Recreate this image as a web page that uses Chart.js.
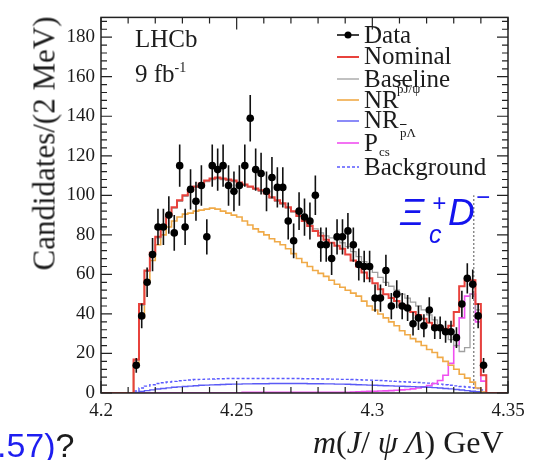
<!DOCTYPE html>
<html>
<head>
<meta charset="utf-8">
<script src="https://cdn.jsdelivr.net/npm/chart.js@4.4.1/dist/chart.umd.min.js"></script>
<style>
  html, body { margin: 0; padding: 0; background: #fff; }
  #wrap { position: relative; width: 544px; height: 460px; overflow: hidden; }
  #wrap canvas { position: absolute; left: 0; top: 0; }
  .t { position: absolute; white-space: nowrap; line-height: 1; color: #1c1c1c;
       font-family: "Liberation Serif", "Times New Roman", serif; }
  .leg { font-size: 25px; left: 364px; }
  .small { font-size: 13px; }
  .ov { text-decoration: overline; }
  .xi { font-family: "Liberation Sans", Arial, sans-serif; font-style: italic; color: #1414ee; }
</style>
</head>
<body>
<div id="wrap">
  <canvas id="c" width="544" height="460"></canvas>

  <div class="t" style="font-size:31px; width:300px; text-align:center; left:-106.5px; top:127.5px; transform:rotate(-90deg);">Candidates/(2 MeV)</div>
  <div class="t" style="font-size:32px; left:313px; top:426px;"><i>m</i>(<i>J</i>/ <i>ψ Λ</i>) GeV</div>

  <div class="t" style="font-size:25px; left:135px; top:26px;">LHCb</div>
  <div class="t" style="font-size:25px; left:135px; top:61px;">9 fb<sup style="font-size:14px; vertical-align:10px;">-1</sup></div>

  <div class="t leg" style="top:22px;">Data</div>
  <div class="t leg" style="top:43px;">Nominal</div>
  <div class="t leg" style="top:66px;">Baseline</div>
  <div class="t leg" style="top:87px;">NR</div>
  <div class="t small" style="left:397px; top:82px;"><span class="ov">p</span>J/ψ</div>
  <div class="t leg" style="top:107px;">NR</div>
  <div class="t small" style="left:400px; top:126px;"><span class="ov">p</span>Λ</div>
  <div class="t leg" style="top:130px;">P</div>
  <div class="t small" style="left:379px; top:145px;">cs</div>
  <div class="t leg" style="top:154px;">Background</div>

  <div class="t xi" style="font-size:37px; left:400px; top:194px;">Ξ</div>
  <div class="t xi" style="font-size:25px; left:429px; top:222px;">c</div>
  <div class="t xi" style="font-size:24px; left:432px; top:191px;">+</div>
  <div class="t xi" style="font-size:37px; left:448px; top:194px;">D</div>
  <div class="t xi" style="font-size:24px; left:476px; top:185px;">−</div>

  <div class="t" style="font-family:'Liberation Sans', Arial, sans-serif; font-size:34px; left:-3px; top:428px;"><span style="color:#1e1ef0;">.57)</span>?</div>
</div>

<script>
// m(J/psi Lambda) bin centres, 2 MeV bins
const binCenters = [
  4.213, 4.215, 4.217, 4.219, 4.221, 4.223, 4.225, 4.227, 4.229, 4.231,
  4.233, 4.235, 4.237, 4.239, 4.241, 4.243, 4.245, 4.247, 4.249, 4.251,
  4.253, 4.255, 4.257, 4.259, 4.261, 4.263, 4.265, 4.267, 4.269, 4.271,
  4.273, 4.275, 4.277, 4.279, 4.281, 4.283, 4.285, 4.287, 4.289, 4.291,
  4.293, 4.295, 4.297, 4.299, 4.301, 4.303, 4.305, 4.307, 4.309, 4.311,
  4.313, 4.315, 4.317, 4.319, 4.321, 4.323, 4.325, 4.327, 4.329, 4.331,
  4.333, 4.335, 4.337, 4.339, 4.341
];

const dataCounts = [
  14, 39, 56, 70, 84, 84, 90, 81, 115, 84,
  103, 97, 105, 79, 115, 113, 115, 105, 102, 105,
  115, 139, 113, 111, 102, 109, 104, 104, 87, 77,
  92, 89, 87, 100, 75, 75, 68, 79, 79, 82,
  75, 65, 64, 64, 48, 48, 62, 44, 50, 44,
  43, 35, 38, 34, 42, 33, 33, 31, 31, 28,
  45, 58, 55, 39, 14
];

const nominalFit = [
  17, 45, 62, 71, 79, 85, 90, 94, 97.5, 100,
  102.5, 104.5, 106, 107.5, 108.5, 109, 108.5, 108, 107.5, 106.5,
  105.5, 104.5, 103.5, 102.5, 101, 99, 97.5, 96, 94, 92,
  89.5, 87, 84.5, 82, 79.5, 77.5, 76, 74.5, 73, 70,
  67, 64, 61, 58, 55.5, 52.5, 50, 48, 46.5, 44.5,
  43, 41, 39.5, 37.5, 35.5, 34, 33, 32.5, 34, 41,
  54, 57, 57, 45, 9
];

const baselineFit = [
  16.5, 44.5, 61.5, 70.5, 78.5, 84.5, 89.5, 93.5, 97, 99.5,
  102, 104, 105.5, 107, 108, 108.5, 108, 107.5, 107, 106,
  105, 104, 103, 102, 100.5, 98.5, 97, 95.5, 93.5, 91.5,
  89.5, 87.5, 85.5, 83, 81, 79.5, 78.5, 77.5, 76, 74,
  71.5, 69, 66.5, 63.5, 61, 58.5, 56, 54, 52, 50,
  48, 46, 44, 42, 39.5, 37, 34, 31, 27, 24,
  21, 23, 50, 42, 9
];

const nrPJpsi = [
  14, 38, 56, 67, 75, 80, 84, 87, 89, 90.5,
  91, 92, 92.5, 93, 93.5, 93, 92, 91, 90, 89,
  87, 85, 83, 81.5, 80, 78, 76.5, 75, 73, 70.5,
  68, 66, 64, 62, 60.5, 59, 57, 55, 53.5, 52,
  50.5, 49, 46.5, 44, 42, 40, 38, 36, 34, 31.5,
  29.5, 27.5, 26, 24, 22, 20.5, 18, 16, 14, 12,
  9.5, 7.5, 5.5, 2.5, 0.5
];

const nrPLambda = [
  0.3, 0.8, 1.2, 1.6, 2, 2.3, 2.6, 2.9, 3.1, 3.3,
  3.5, 3.7, 3.9, 4, 4.1, 4.2, 4.3, 4.4, 4.5, 4.5,
  4.6, 4.6, 4.7, 4.7, 4.7, 4.8, 4.8, 4.8, 4.8, 4.8,
  4.8, 4.8, 4.7, 4.7, 4.7, 4.6, 4.6, 4.5, 4.5, 4.4,
  4.3, 4.2, 4.1, 4, 3.9, 3.8, 3.7, 3.6, 3.5, 3.4,
  3.3, 3.2, 3.1, 3, 2.9, 2.7, 2.5, 2.3, 2.1, 1.8,
  1.5, 1.2, 0.9, 0.6, 0.3
];

const pcsState = [
  0.1, 0.1, 0.1, 0.1, 0.1, 0.1, 0.1, 0.1, 0.1, 0.1,
  0.1, 0.1, 0.1, 0.1, 0.1, 0.1, 0.1, 0.1, 0.1, 0.1,
  0.3, 0.3, 0.3, 0.3, 0.3, 0.3, 0.3, 0.3, 0.3, 0.3,
  0.3, 0.3, 0.3, 0.3, 0.3, 0.3, 0.3, 0.3, 0.3, 0.3,
  0.5, 0.6, 0.7, 0.8, 0.9, 1, 1.1, 1.2, 1.4, 1.6,
  1.8, 2.1, 2.5, 3, 3.8, 4.8, 6.3, 9, 15, 24,
  38, 49, 50, 36, 6
];

const background = [
  1, 2.5, 3.5, 4.2, 4.8, 5.2, 5.6, 5.9, 6.2, 6.4,
  6.6, 6.8, 6.9, 7, 7.1, 7.2, 7.2, 7.3, 7.3, 7.3,
  7.3, 7.3, 7.3, 7.3, 7.3, 7.3, 7.3, 7.3, 7.3, 7.3,
  7.3, 7.2, 7.2, 7.2, 7.1, 7.1, 7, 7, 6.9, 6.9,
  6.8, 6.7, 6.6, 6.5, 6.4, 6.3, 6.2, 6, 5.9, 5.7,
  5.6, 5.4, 5.3, 5.1, 5, 4.8, 4.5, 4.2, 3.9, 3.6,
  3.3, 3, 2.7, 2.3, 1.5
];

const xTickLabels = [4.2, 4.25, 4.3, 4.35];
const yTickLabels = [0, 20, 40, 60, 80, 100, 120, 140, 160, 180];
const xMin = 4.2, xMax = 4.35, yMin = 0, yMax = 190;

// Xi_c+ D- threshold marker
const xicDThreshold = 4.3374;
const thresholdLineTop = 100;

const serif = 'Liberation Serif';

// histogram -> step outline, zero outside the filled bins
function stepPoints(vals) {
  const w = binCenters[1] - binCenters[0];
  const pts = [{ x: xMin, y: 0 }];
  binCenters.forEach((c, i) => pts.push({ x: c - w / 2, y: vals[i] }));
  pts.push({ x: binCenters[binCenters.length - 1] + w / 2, y: 0 });
  pts.push({ x: xMax, y: 0 });
  return pts;
}

function histLine(label, vals, color, width, dash, order) {
  return {
    label, data: stepPoints(vals), showLine: true, stepped: 'before',
    borderColor: color, borderWidth: width, borderDash: dash || [],
    pointRadius: 0, fill: false, order
  };
}

const errorBars = {
  id: 'errorBars',
  beforeDatasetDraw(chart, args) {
    if (args.index !== 0) return;
    const { ctx, scales: { x, y } } = chart;
    ctx.save();
    ctx.strokeStyle = '#111';
    ctx.lineWidth = 1.6;
    ctx.beginPath();
    dataCounts.forEach((n, i) => {
      const px = x.getPixelForValue(binCenters[i]);
      const e = Math.sqrt(n);
      ctx.moveTo(px, y.getPixelForValue(n + e));
      ctx.lineTo(px, y.getPixelForValue(Math.max(0, n - e)));
    });
    ctx.stroke();
    ctx.restore();
  }
};

const frameTicks = {
  id: 'frameTicks',
  afterDraw(chart) {
    const { ctx, chartArea: a, scales: { x, y } } = chart;
    ctx.save();
    ctx.strokeStyle = '#222';
    ctx.lineWidth = 1.5;
    ctx.strokeRect(a.left, a.top, a.right - a.left, a.bottom - a.top);
    ctx.lineWidth = 1.2;
    ctx.beginPath();
    // y ticks: major every 20, minor every 4
    for (let v = yMin; v <= yMax; v += 4) {
      const py = y.getPixelForValue(v);
      const len = v % 20 === 0 ? 11 : 6;
      ctx.moveTo(a.left, py); ctx.lineTo(a.left + len, py);
      ctx.moveTo(a.right, py); ctx.lineTo(a.right - len, py);
    }
    // x ticks: major every 0.05, minor every 0.01
    for (let i = 0; i <= 15; i++) {
      const px = x.getPixelForValue(xMin + i * 0.01);
      const len = i % 5 === 0 ? 12 : 6;
      ctx.moveTo(px, a.bottom); ctx.lineTo(px, a.bottom - len);
      ctx.moveTo(px, a.top); ctx.lineTo(px, a.top + len);
    }
    ctx.stroke();

    // legend symbols
    const sx0 = 337, sx1 = 359, rows = [35, 57, 79, 100, 121, 143, 167];
    const ds = chart.data.datasets;
    ctx.lineWidth = 1.6;
    ctx.strokeStyle = '#111';
    ctx.beginPath(); ctx.moveTo(sx0, rows[0]); ctx.lineTo(sx1, rows[0]); ctx.stroke();
    ctx.fillStyle = '#000';
    ctx.beginPath(); ctx.arc((sx0 + sx1) / 2, rows[0], 3.5, 0, Math.PI * 2); ctx.fill();
    for (let k = 1; k <= 6; k++) {
      const d = ds[k];
      ctx.strokeStyle = d.borderColor;
      ctx.lineWidth = d.borderWidth;
      ctx.setLineDash(d.borderDash);
      ctx.beginPath(); ctx.moveTo(sx0, rows[k]); ctx.lineTo(sx1, rows[k]); ctx.stroke();
    }
    ctx.restore();
  }
};

Chart.defaults.font.family = serif;
Chart.defaults.color = '#1c1c1c';

const chart = new Chart(document.getElementById('c'), {
  type: 'scatter',
  data: {
    datasets: [
      {
        label: 'Data',
        data: binCenters.map((c, i) => ({ x: c, y: dataCounts[i] })),
        pointRadius: 3.8, pointBackgroundColor: '#000', pointBorderWidth: 0,
        showLine: false, order: 0
      },
      histLine('Nominal', nominalFit, '#e8423c', 2, [], 1),
      histLine('Baseline', baselineFit, '#a0a0a0', 1.3, [], 2),
      histLine('NR pJ/psi', nrPJpsi, '#f0aa48', 1.6, [], 3),
      histLine('NR pLambda', nrPLambda, '#5a5af5', 1.4, [], 4),
      histLine('Pcs', pcsState, '#f050f0', 1.6, [], 5),
      histLine('Background', background, '#5a5aff', 1.4, [3, 2], 6),
      {
        label: 'threshold',
        data: [{ x: xicDThreshold, y: 0 }, { x: xicDThreshold, y: thresholdLineTop }],
        showLine: true, borderColor: '#555', borderWidth: 1, borderDash: [2, 2],
        pointRadius: 0, order: 7
      }
    ]
  },
  options: {
    responsive: false,
    animation: false,
    layout: { padding: { left: 0, right: 36, top: 13, bottom: 0 } },
    plugins: { legend: { display: false }, tooltip: { enabled: false } },
    scales: {
      x: {
        type: 'linear', min: xMin, max: xMax,
        grid: { display: false, drawTicks: false },
        border: { display: false },
        afterBuildTicks: s => { s.ticks = xTickLabels.map(v => ({ value: v })); },
        afterFit: s => { s.height = 67; },
        ticks: {
          padding: 7, maxRotation: 0, autoSkip: false,
          font: { family: serif, size: 19 },
          callback: v => String(parseFloat(v.toFixed(2)))
        }
      },
      y: {
        type: 'linear', min: yMin, max: yMax,
        grid: { display: false, drawTicks: false },
        border: { display: false },
        afterBuildTicks: s => { s.ticks = yTickLabels.map(v => ({ value: v })); },
        afterFit: s => { s.width = 101; },
        ticks: { padding: 6, font: { family: serif, size: 19 } }
      }
    }
  },
  plugins: [errorBars, frameTicks]
});

// redraw once the page fonts are settled
window.addEventListener('load', () => chart.update());
</script>
</body>
</html>
